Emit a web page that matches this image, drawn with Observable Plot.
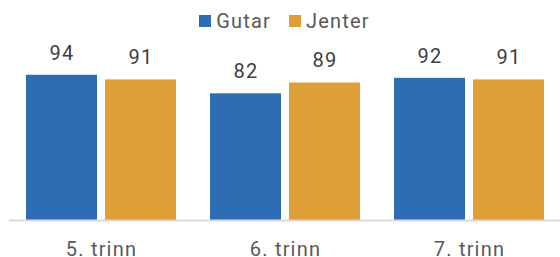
<!DOCTYPE html>
<html>
<head>
<meta charset="utf-8">
<script src="https://cdn.jsdelivr.net/npm/d3@7"></script>
<script src="https://cdn.jsdelivr.net/npm/@observablehq/plot@0.6"></script>
<style>
  html, body { margin: 0; padding: 0; background: #fff; }
  body { width: 560px; height: 257px; overflow: hidden; font-family: Roboto, sans-serif; }
  #legend { height: 30px; display: flex; justify-content: center; align-items: center; padding-left: 9px; padding-top: 12px; box-sizing: border-box; font-size: 20px; letter-spacing: 1.2px; color: #595959; }
  #legend .item { display: flex; align-items: center; margin: 0 9px; }
  #legend .sw { width: 12px; height: 12px; margin-right: 5px; }
  svg { display: block; }
</style>
</head>
<body>
<div id="legend"></div>
<div id="chart"></div>
<script>
const categories = ["5. trinn", "6. trinn", "7. trinn"];
const series = ["Gutar", "Jenter"];
const gutar = [94, 82, 92];
const jenter = [91, 89, 91];
const colors = ["#2E6DB4", "#DF9F38"];

const data = [];
categories.forEach((c, i) => {
  data.push({category: c, group: series[0], value: gutar[i]});
  data.push({category: c, group: series[1], value: jenter[i]});
});

const legend = document.getElementById("legend");
series.forEach((s, i) => {
  const it = document.createElement("div");
  it.className = "item";
  const sw = document.createElement("span");
  sw.className = "sw";
  sw.style.background = colors[i];
  const t = document.createElement("span");
  t.textContent = s;
  it.appendChild(sw); it.appendChild(t);
  legend.appendChild(it);
});

const bandW = 150, barW = 71;
const inset = bandW - barW;
const off = (bandW - barW) / 2;

const chart = Plot.plot({
  width: 560,
  height: 227,
  marginLeft: 9,
  marginRight: 0,
  marginTop: 35.5,
  marginBottom: 37,
  style: {fontFamily: "Roboto, sans-serif", fontSize: "20px", color: "#595959", letterSpacing: "1.2px"},
  x: {domain: categories, paddingInner: 0.187, paddingOuter: 0.085, label: null, tickSize: 0, tickPadding: 21},
  y: {domain: [0, 100], axis: null},
  color: {domain: series, range: colors},
  marks: [
    Plot.barY(data.filter(d => d.group === series[0]), {x: "category", y: "value", fill: "group", insetRight: inset}),
    Plot.barY(data.filter(d => d.group === series[1]), {x: "category", y: "value", fill: "group", insetLeft: inset}),
    Plot.ruleY([0], {stroke: "#d9d9d9", strokeWidth: 2}),
    Plot.text(data.filter(d => d.group === series[0]), {x: "category", y: "value", text: d => String(d.value), dx: -off, dy: -22, fill: "#404040", fontSize: 20}),
    Plot.text(data.filter(d => d.group === series[1]), {x: "category", y: "value", text: d => String(d.value), dx: off, dy: -22, fill: "#404040", fontSize: 20})
  ]
});
document.getElementById("chart").appendChild(chart);
</script>
</body>
</html>
